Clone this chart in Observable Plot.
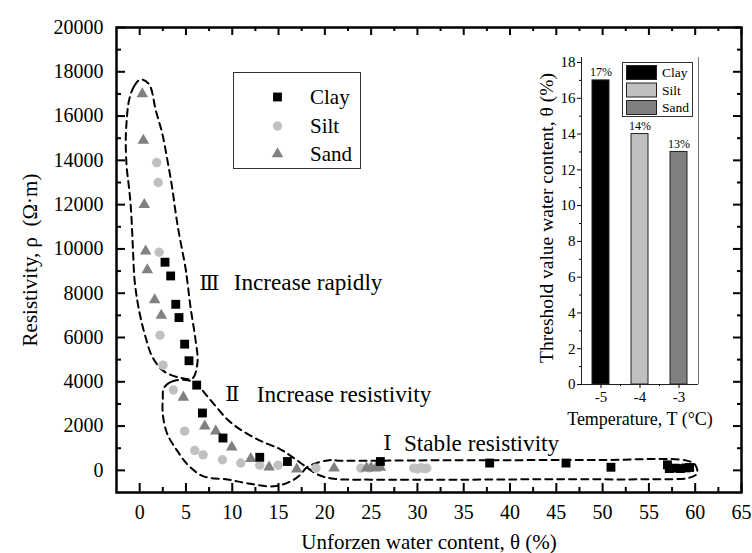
<!DOCTYPE html>
<html><head><meta charset="utf-8">
<script src="https://cdn.jsdelivr.net/npm/d3@7"></script>
<script src="https://cdn.jsdelivr.net/npm/@observablehq/plot@0.6"></script>
<style>
body{margin:0;background:#fff;}
#wrap{position:relative;width:752px;height:553px;font-family:"Liberation Serif","Times New Roman",serif;}
#wrap svg{position:absolute;overflow:visible;background:transparent;}
</style></head><body><div id="wrap"></div>
<script>
// ---- main scatter data: unfrozen water content θ (%) and resistivity ρ (Ω·m)
const clayTheta = [2.74, 3.35, 3.9, 4.25, 4.86, 5.33, 6.16, 6.78, 9.0, 12.97, 15.96, 26.0, 37.8, 46.05, 50.9, 57.0, 57.2, 57.8, 58.4, 59.0, 59.4];
const clayRho   = [9400, 8780, 7500, 6900, 5700, 4950, 3850, 2590, 1460, 590, 400, 400, 330, 330, 140, 250, 80, 100, 80, 110, 130];
const siltTheta = [1.84, 2.0, 2.1, 2.2, 2.52, 3.64, 4.86, 5.95, 6.85, 8.94, 10.92, 12.97, 14.95, 19.03, 23.9, 24.8, 29.6, 30.0, 30.4, 30.8, 31.0];
const siltRho   = [13900, 13000, 9850, 6100, 4750, 3630, 1770, 900, 700, 480, 330, 230, 230, 100, 100, 110, 100, 60, 120, 80, 100];
const sandTheta = [0.29, 0.4, 0.5, 0.65, 0.83, 1.62, 2.34, 4.72, 7.03, 8.22, 9.95, 12.0, 13.98, 16.97, 21.0, 24.5, 25.0, 25.5, 26.0];
const sandRho   = [17000, 14900, 12000, 9900, 9050, 7700, 7000, 3300, 2000, 1770, 1050, 530, 140, 50, 100, 100, 120, 100, 130];

// ---- dashed zone outlines (θ, ρ)
const zone3Theta = [0.1,-0.6,-1.15,-1.4,-1.5,-1.4,-1.15,-0.95,-0.8,-0.7,-0.55,-0.25,0.1,0.65,1.4,2.6,4.4,5.7,6.25,6.05,5.5,5.15,4.95,4.25,3.9,3.5,3.0,2.45,1.75,1.0];
const zone3Rho   = [17650,17350,16700,15800,14900,13700,12770,11870,10700,9750,8600,7650,6900,6000,5100,4480,4180,4150,4900,5850,7350,8550,9150,10700,11600,12800,14000,15200,16250,17450];
const zone12Theta = [2.6,3.4,5.0,6.2,7.0,8.0,9.6,11.5,13.5,15.2,16.5,18.05,19.3,21,25,35,45,55,59.4,60.2,60.0,59.0,50,40,30,22,20.3,18.05,17.4,16.3,14.5,11.7,9.5,6.9,5.2,4.1,3.0,2.5,2.5];
const zone12Rho   = [3700,4000,4080,3900,3500,3000,2250,1680,1250,950,600,136,-200,-380,-420,-420,-400,-400,-330,-130,250,450,470,460,450,430,450,136,-180,-500,-720,-590,-410,-270,250,860,1630,2530,3260];

// ---- zone annotations
const zoneNumerals  = ["Ⅲ", "Ⅱ", "Ⅰ"];
const zoneLabels    = ["Increase rapidly", "Increase resistivity", "Stable resistivity"];
const numeralTheta  = [6.45, 9.25, 26.3];
const labelTheta    = [10.16, 12.65, 28.54];
const annoRho       = [8460, 3440, 1220];

// ---- axis ticks
const xMajor = d3.range(0, 66, 5);
const xMinor = d3.range(2.5, 65, 5);
const yMajor = d3.range(0, 20001, 2000);
const yMinor = d3.range(1000, 20000, 2000);

// ---- inset data: threshold water content by temperature
const soils = ["Clay", "Silt", "Sand"];
const insetTemp = [-5, -4, -3];
const insetValue = [17, 14, 13];
const insetYTicks = d3.range(0, 19, 2);
const insetYMinor = d3.range(1, 18, 2);
const insetXMinor = [-4.5, -3.5];
const soilColors = ["#000000", "#c0c0c0", "#808080"];

const zip2 = (a, b) => a.map((v, i) => ({x: v, y: b[i]}));
const clay = zip2(clayTheta, clayRho), silt = zip2(siltTheta, siltRho), sand = zip2(sandTheta, sandRho);
const zone3 = zip2(zone3Theta, zone3Rho), zone12 = zip2(zone12Theta, zone12Rho);
const annos = zoneNumerals.map((n, i) => ({n, label: zoneLabels[i], xn: numeralTheta[i], xl: labelTheta[i], y: annoRho[i]}));

const W = 752, H = 553, mL = 116, mR = 11, mT = 27, mB = 61;
const iw = W - mL - mR, ih = H - mT - mB;
const font = "Liberation Serif";
const dash = {stroke: "#000", strokeWidth: 2, strokeDasharray: "7,5", curve: "catmull-rom-closed"};

const main = Plot.plot({
  width: W, height: H, marginLeft: mL, marginRight: mR, marginTop: mT, marginBottom: mB,
  style: {fontFamily: font, color: "#000", background: "transparent"},
  x: {domain: [-2.5, 65]},
  y: {domain: [-1000, 20000]},
  marks: [
    Plot.axisX({ticks: xMajor, tickSize: 0, tickPadding: 12, fontSize: 20, tickFormat: d => String(d), label: null}),
    Plot.axisY({ticks: yMajor, tickSize: 0, tickPadding: 13, fontSize: 20, tickFormat: d => String(d), label: null}),
    Plot.tickX(xMajor, {x: d => d, insetTop: ih - 9, strokeWidth: 2}),
    Plot.tickX(xMinor, {x: d => d, insetTop: ih - 5, strokeWidth: 2}),
    Plot.tickX(xMajor, {x: d => d, insetBottom: ih - 8, strokeWidth: 2}),
    Plot.tickX(xMinor, {x: d => d, insetBottom: ih - 4, strokeWidth: 2}),
    Plot.tickY(yMajor, {y: d => d, insetRight: iw - 9, strokeWidth: 2}),
    Plot.tickY(yMinor, {y: d => d, insetRight: iw - 5, strokeWidth: 2}),
    Plot.tickY(yMajor, {y: d => d, insetLeft: iw - 8, strokeWidth: 2}),
    Plot.tickY(yMinor, {y: d => d, insetLeft: iw - 4, strokeWidth: 2}),
    Plot.frame({stroke: "#000", strokeWidth: 2.5}),
    Plot.line(zone3, {x: "x", y: "y", ...dash}),
    Plot.line(zone12, {x: "x", y: "y", ...dash}),
    Plot.dot(silt, {x: "x", y: "y", symbol: "circle", r: 4.7, fill: soilColors[1]}),
    Plot.dot(sand, {x: "x", y: "y", symbol: "triangle", r: 4.3, fill: soilColors[2]}),
    Plot.dot(clay, {x: "x", y: "y", symbol: "square", r: 5, fill: soilColors[0]}),
    Plot.text(annos, {x: "xn", y: "y", text: "n", textAnchor: "start", fontSize: 21, fontFamily: "DejaVu Serif", fill: "#000"}),
    Plot.text(annos, {x: "xl", y: "y", text: "label", textAnchor: "start", fontSize: 23.2, fill: "#000"}),
    Plot.text(["Resistivity, ρ\u00a0\u00a0(Ω·m)"], {frameAnchor: "left", textAnchor: "middle", lineAnchor: "middle", rotate: -90, dx: -86, fontSize: 21}),
    Plot.text(["Unforzen water content, θ (%)"], {frameAnchor: "bottom", lineAnchor: "middle", dy: 50, fontSize: 21})
  ]
});

// ---- inset bar chart
const bars = insetTemp.map((t, i) => ({T: t, v: insetValue[i], soil: soils[i]}));
const iW = 190, iH = 370, imL = 51, imR = 22, imT = 7, imB = 36;
const inset = Plot.plot({
  width: iW, height: iH, marginLeft: imL, marginRight: imR, marginTop: imT, marginBottom: imB,
  style: {fontFamily: font, color: "#000", background: "transparent"},
  x: {domain: [-5.5, -2.5]},
  y: {domain: [0, 18.28]},
  color: {domain: soils, range: soilColors},
  marks: [
    Plot.rectY(bars, {x1: d => d.T - 0.5, x2: d => d.T + 0.5, y1: 0, y2: "v", fill: "soil", stroke: "#222", strokeWidth: 1, insetLeft: 11, insetRight: 11}),
    Plot.ruleX([-5.5], {stroke: "#222", strokeWidth: 1}),
    Plot.ruleX([-2.5], {stroke: "#777", strokeWidth: 1}),
    Plot.ruleY([0], {stroke: "#222", strokeWidth: 1.2}),
    Plot.axisY({ticks: insetYTicks, tickSize: 4, tickPadding: 2, fontSize: 15, tickFormat: d => String(d), label: null}),
    Plot.axisY({ticks: insetYMinor, tickSize: 2, text: null, label: null}),
    Plot.axisX({ticks: insetTemp, tickSize: 4, tickPadding: 3, fontSize: 15, tickFormat: d => String(d), label: null}),
    Plot.axisX({ticks: insetXMinor, tickSize: 2, text: null, label: null}),
    Plot.text(bars, {x: "T", y: "v", text: d => d.v + "%", dy: -8, fontSize: 12}),
    Plot.text(["Threshold value water content, θ (%)"], {frameAnchor: "left", textAnchor: "middle", lineAnchor: "middle", rotate: -90, dx: -35, dy: -3, fontSize: 19.5}),
    Plot.text(["Temperature, T (°C)"], {frameAnchor: "bottom", lineAnchor: "middle", dy: 35, fontSize: 18})
  ]
});

const wrap = document.getElementById("wrap");
main.style.left = "0px"; main.style.top = "0px";
inset.style.left = "530px"; inset.style.top = "50px";
wrap.appendChild(main);
wrap.appendChild(inset);

// ---- main legend
const symShapes = [d3.symbolSquare, d3.symbolCircle, d3.symbolTriangle];
const symR = [5, 4.7, 4.3];
const leg = d3.select(wrap).append("svg").attr("width", 129).attr("height", 98)
  .style("left", "233px").style("top", "72px");
leg.append("rect").attr("x", 0.5).attr("y", 0.5).attr("width", 127).attr("height", 96)
  .attr("fill", "#fff").attr("stroke", "#333").attr("stroke-width", 1);
const legY = [25, 54, 82];
soils.forEach((s, i) => {
  leg.append("path").attr("d", d3.symbol(symShapes[i], Math.PI * symR[i] * symR[i])())
    .attr("transform", `translate(44.5,${legY[i]})`).attr("fill", soilColors[i]);
  leg.append("text").attr("x", 77).attr("y", legY[i]).attr("dy", "0.35em")
    .attr("font-family", font).attr("font-size", 21).text(s);
});

// ---- inset legend
const ileg = d3.select(wrap).append("svg").attr("width", 71).attr("height", 55)
  .style("left", "622px").style("top", "62px");
ileg.append("rect").attr("x", 0.5).attr("y", 0.5).attr("width", 70).attr("height", 54)
  .attr("fill", "#fff").attr("stroke", "#333").attr("stroke-width", 1);
const ilegY = [3, 20.5, 38];
soils.forEach((s, i) => {
  ileg.append("rect").attr("x", 4.5).attr("y", ilegY[i] + 0.5).attr("width", 30).attr("height", 14)
    .attr("fill", soilColors[i]).attr("stroke", "#222");
  ileg.append("text").attr("x", 40).attr("y", ilegY[i] + 7.5).attr("dy", "0.35em")
    .attr("font-family", font).attr("font-size", 13.5).text(s);
});
</script></body></html>
